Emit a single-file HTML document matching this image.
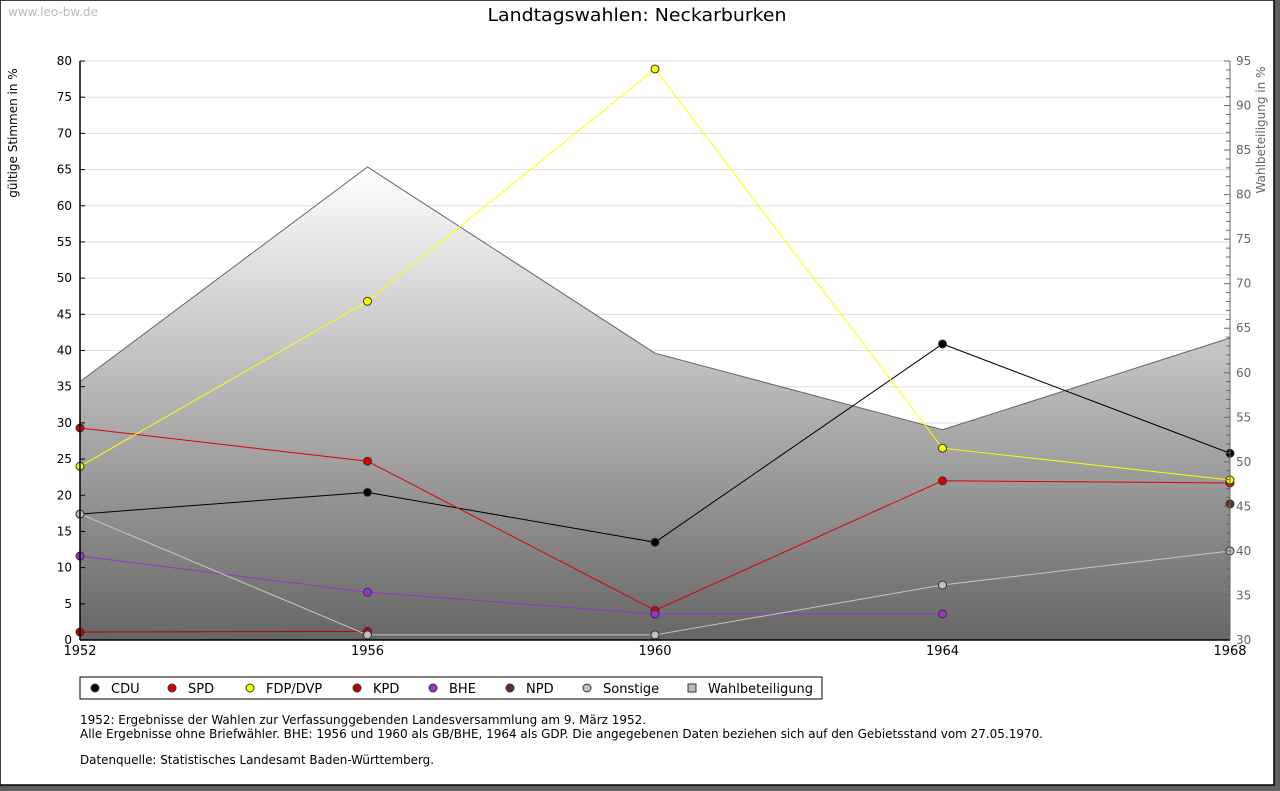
<!DOCTYPE html>
<html><head><meta charset="utf-8"><style>
body{margin:0;background:#fff;width:1280px;height:791px;overflow:hidden;font-family:"DejaVu Sans","Liberation Sans",sans-serif}
svg{display:block}
</style></head><body>
<svg id="chart" width="1280" height="791" xmlns="http://www.w3.org/2000/svg">
<defs><linearGradient id="wb" x1="0" y1="0" x2="0" y2="1"><stop offset="0" stop-color="#ffffff"/><stop offset="1" stop-color="#666666"/></linearGradient></defs>
<rect x="0" y="0" width="1280" height="791" fill="#5f5f5f"/>
<rect x="0" y="0" width="1274" height="785" fill="#fff" stroke="#000" stroke-width="1.5"/>
<text x="8" y="16" font-size="12" fill="#bbb">www.leo-bw.de</text>
<text x="637" y="21" font-size="18" text-anchor="middle" fill="#000" textLength="299" lengthAdjust="spacingAndGlyphs">Landtagswahlen: Neckarburken</text>
<text transform="translate(17,133) rotate(-90)" font-size="12" text-anchor="middle">gültige Stimmen in %</text>
<text transform="translate(1265,130) rotate(-90)" font-size="12" text-anchor="middle" fill="#666">Wahlbeteiligung in %</text>
<g id="grid"></g><g id="area"></g><g id="series"></g><g id="axes"></g>
<rect x="80" y="677" width="742" height="22" fill="#fff" stroke="#000"/>
<g id="legend"></g>
<g font-size="12" fill="#000" font-family="'DejaVu Sans Condensed','Liberation Sans',sans-serif">
<text x="80" y="724" textLength="566" lengthAdjust="spacingAndGlyphs">1952: Ergebnisse der Wahlen zur Verfassunggebenden Landesversammlung am 9. März 1952.</text>
<text x="80" y="738" textLength="963" lengthAdjust="spacingAndGlyphs">Alle Ergebnisse ohne Briefwähler. BHE: 1956 und 1960 als GB/BHE, 1964 als GDP. Die angegebenen Daten beziehen sich auf den Gebietsstand vom 27.05.1970.</text>
<text x="80" y="764" textLength="354" lengthAdjust="spacingAndGlyphs">Datenquelle: Statistisches Landesamt Baden-Württemberg.</text>
</g>
</svg>
<script>
const years=[1952,1956,1960,1964,1968];
const cdu=[17.4,20.4,13.5,40.9,25.8];
const spd=[29.3,24.7,4.1,22.0,21.7];
const fdp=[24.0,46.8,78.9,26.5,22.1];
const kpd=[1.1,1.2,null,null,null];
const bhe=[11.6,6.6,3.6,3.6,null];
const npd=[null,null,null,null,18.8];
const sonst=[17.4,0.7,0.7,7.6,12.3];
const wahlbet=[59.0,83.1,62.2,53.6,63.9];
const leftTicks=[0,5,10,15,20,25,30,35,40,45,50,55,60,65,70,75,80];
const rightTicks=[30,35,40,45,50,55,60,65,70,75,80,85,90,95];
const seriesNames=["CDU","SPD","FDP/DVP","KPD","BHE","NPD","Sonstige"];
const seriesColors=["#000000","#e00000","#ffff00","#c00000","#9933cc","#603020","#c0c0c0"];
const lineColors=["#000000","#e00000","#ffff00","#c00000","#9933cc","#603020","#c8c8c8"];
const NS="http://www.w3.org/2000/svg";
const X0=80,X1=1230,Y0=640,Y1=61;
const x=v=>X0+(v-1952)/(1968-1952)*(X1-X0);
const y=v=>Y0-v/80*(Y0-Y1);
const y2=v=>Y0-(v-30)/65*(Y0-Y1);
function mk(t,a,p){const e=document.createElementNS(NS,t);for(const k in a)e.setAttribute(k,a[k]);p.appendChild(e);return e;}
const grid=document.getElementById('grid'),axes=document.getElementById('axes'),area=document.getElementById('area'),ser=document.getElementById('series'),leg=document.getElementById('legend');
leftTicks.forEach(t=>{
 if(t>0){const l=mk('line',{x1:X0,x2:X1,y1:y(t),y2:y(t),stroke:'#ddd'},grid);
 
 }
 mk('line',{x1:X0,x2:X0+5,y1:y(t),y2:y(t),stroke:'#000'},axes);
 const tx=mk('text',{x:X0-8,y:y(t)+4,'font-size':12,'text-anchor':'end'},axes);tx.textContent=t;
 
 
});
for(let v=30;v<=95;v++){mk('line',{x1:X1-(v%5?4:6),x2:X1,y1:y2(v),y2:y2(v),stroke:'#666'},axes);}
rightTicks.forEach(t=>{const tx=mk('text',{x:X1+6,y:y2(t)+4,'font-size':12,fill:'#666'},axes);tx.textContent=t;
 
 });
let d='M'+x(years[0])+','+Y0;years.forEach((yr,i)=>d+=' L'+x(yr)+','+y2(wahlbet[i]));d+=' L'+x(years[4])+','+Y0+' Z';
const ap=mk('path',{d:d,fill:'url(#wb)',stroke:'none'},area);


const al=mk('polyline',{points:years.map((yr,i)=>x(yr)+','+y2(wahlbet[i])).join(' '),fill:'none',stroke:'#666'},area);


mk('line',{x1:X0,x2:X0,y1:Y1,y2:Y0,stroke:'#000','stroke-width':1.5},axes);
mk('line',{x1:X0,x2:X1,y1:Y0,y2:Y0,stroke:'#000','stroke-width':1.5},axes);
mk('line',{x1:X1,x2:X1,y1:Y1,y2:Y0,stroke:'#666'},axes);
years.forEach(yr=>{const tx=mk('text',{x:x(yr),y:655,'font-size':13,'text-anchor':'middle'},axes);tx.textContent=yr;
 
 });
const all=[cdu,spd,fdp,kpd,bhe,npd,sonst];
all.forEach((s,si)=>{
 const g=mk('g',{},ser);
 
 
 const pts=[];s.forEach((v,i)=>{if(v!=null)pts.push(x(years[i])+','+y(v));});
 mk('polyline',{points:pts.join(' '),fill:'none',stroke:lineColors[si]},g);
 s.forEach((v,i)=>{if(v==null)return;const c=mk('circle',{cx:x(years[i]),cy:y(v),r:4,fill:seriesColors[si],stroke:'#333'},g);
  
  });
});
const legX=[95,172,250,357,433,510,587,692];
const labels=seriesNames.concat(["Wahlbeteiligung"]);
labels.forEach((n,i)=>{
 if(i<7){mk('circle',{cx:legX[i],cy:688,r:4,fill:seriesColors[i],stroke:'#333'},leg);}
 else{mk('rect',{x:legX[i]-4,y:684,width:8,height:8,fill:'#bbb',stroke:'#333'},leg);}
 const t=mk('text',{x:legX[i]+16,y:693,'font-size':13},leg);t.textContent=n;
 
 
});
</script>
</body></html>
